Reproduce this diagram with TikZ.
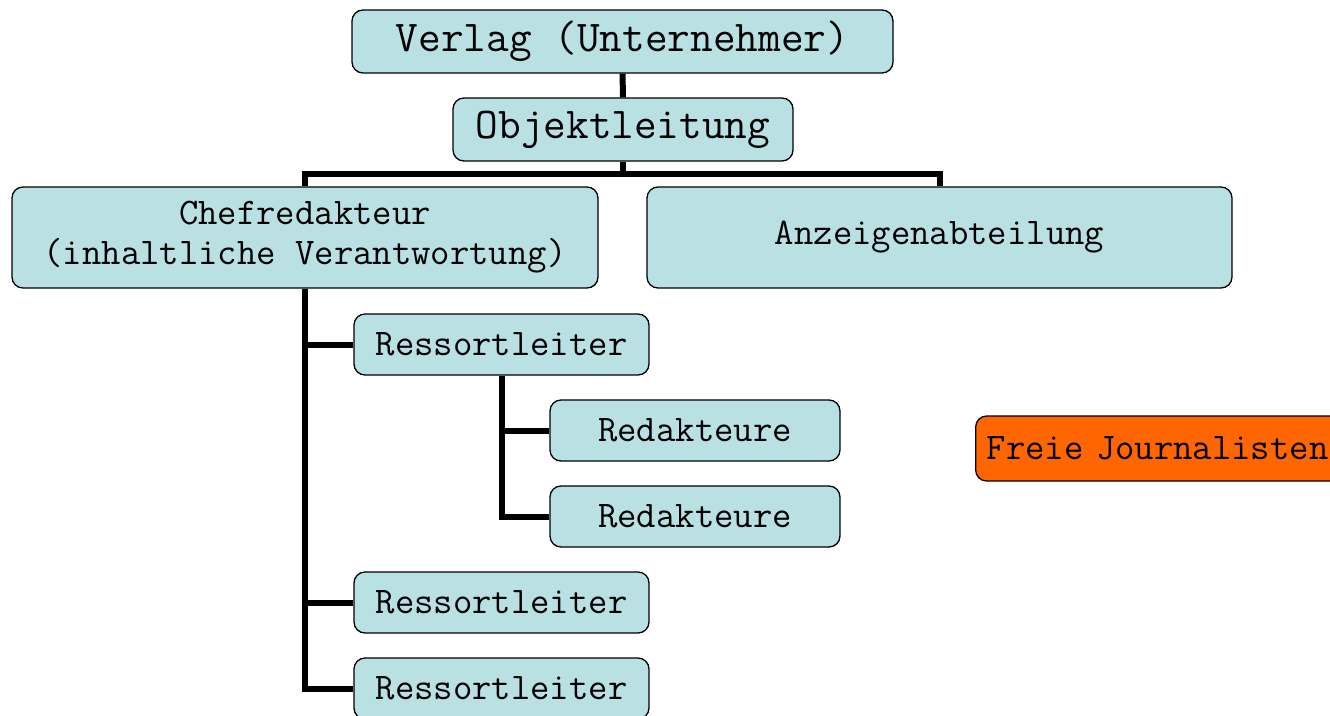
\documentclass[tikz,border=0pt]{standalone}
\usepackage{xcolor}
\definecolor{boxblue}{RGB}{185,224,227}
\definecolor{freeorange}{RGB}{255,102,0}
\usepackage{tikz}
\usetikzlibrary{positioning}

\begin{document}
\begin{tikzpicture}[
  x=1pt, y=-1pt,
  unit/.style={draw=black, line width=1.3pt, rounded corners=11pt, fill=boxblue, align=center, font=\ttfamily\fontsize{37.6}{40}\selectfont, inner sep=0pt},
  topunit/.style={unit, font=\ttfamily\fontsize{44}{48}\selectfont},
  extunit/.style={unit, fill=freeorange, inner xsep=11pt, text width=350pt, align=left, minimum height=65pt},
  conn/.style={draw=black, line width=6pt}
]
\useasboundingbox (0,0) rectangle (1330,715);
\clip (0,0) rectangle (1330,715);
\node[topunit, minimum width=541pt, minimum height=63pt] (verlag) at (622.5,41.5) {Verlag (Unternehmer)};
\node[topunit, minimum width=340pt, minimum height=63pt] (objekt) at (623,129.5) {Objektleitung};
\node[unit, minimum width=586pt, minimum height=101pt] (chef) at (305,237.5) {Chefredakteur\\(inhaltliche Verantwortung)};
\node[unit, minimum width=585pt, minimum height=101pt] (anzeigen) at (939.5,237.5) {Anzeigenabteilung};
\node[unit, minimum width=295pt, minimum height=61pt] (ressort1) at (501.5,344.5) {Ressortleiter};
\node[unit, minimum width=290pt, minimum height=61pt] (redakt1) at (695,430.5) {Redakteure};
\node[unit, minimum width=290pt, minimum height=61pt] (redakt2) at (695,516.5) {Redakteure};
\node[unit, minimum width=295pt, minimum height=61pt] (ressort2) at (501.5,602.5) {Ressortleiter};
\node[unit, minimum width=295pt, minimum height=61pt] (ressort3) at (501.5,688.5) {Ressortleiter};
\node[extunit, anchor=west] (freie) at (975,448.5) {Freie Journalisten};
% Leitung
\draw[conn] (verlag.south) -- (objekt.north);
\draw[conn] (objekt.south) -- ++(0,12) -| (chef.north);
\draw[conn] (objekt.south) -- ++(0,12) -| (anzeigen.north);
% Redaktion
\draw[conn] (chef.south) |- (ressort1.west);
\draw[conn] (chef.south) |- (ressort2.west);
\draw[conn] (chef.south) |- (ressort3.west);
\draw[conn] (ressort1.south) |- (redakt1.west);
\draw[conn] (ressort1.south) |- (redakt2.west);
\end{tikzpicture}
\end{document}
